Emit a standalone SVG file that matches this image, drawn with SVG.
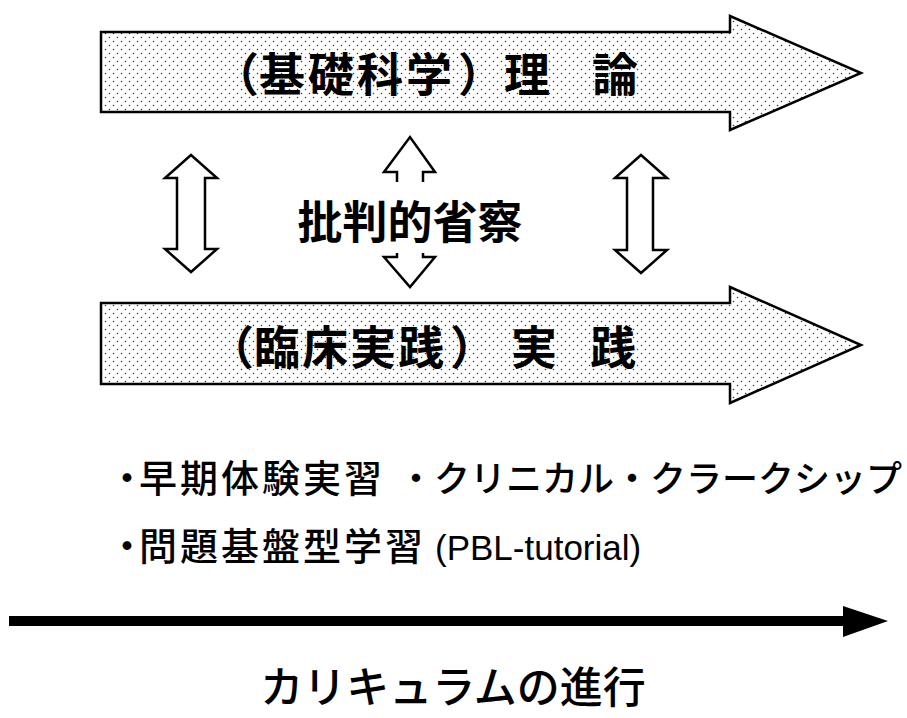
<svg xmlns="http://www.w3.org/2000/svg" width="907" height="718" viewBox="0 0 907 718">
<defs>
<pattern id="dots" width="8" height="8" patternUnits="userSpaceOnUse">
<rect width="8" height="8" fill="#ffffff"/>
<circle cx="1.5" cy="1.5" r="0.75" fill="#333"/>
<circle cx="5.5" cy="5.5" r="0.75" fill="#333"/>
</pattern>
<style>
.big{fill:url(#dots);stroke:#000;stroke-width:2.5;stroke-linejoin:miter}
.dbl{fill:#fff;stroke:#000;stroke-width:2.5;stroke-linejoin:miter}
.t{font-family:"Noto Sans CJK JP","Noto Sans CJK SC",sans-serif;fill:#000}
.b{font-weight:bold;font-size:46px}
.m{font-size:38px;font-weight:500}
.lat{font-family:"Liberation Sans",Arial,sans-serif;font-size:35px}
</style>
</defs>
<g id="theory">
<path class="big" d="M101,32 H730 V16 L861,73 L730,130 V112 H101 Z"/>
<text class="t b" x="213 259 308 357 406 458" y="91">（基礎科学）</text>
<text class="t b" x="504" y="91">理</text>
<text class="t b" x="592" y="91">論</text>
</g>
<g id="practice">
<path class="big" d="M101,303 H730 V287 L861,345 L730,403 V384 H101 Z"/>
<text class="t b" x="208 254 302 350 398 450" y="364">（臨床実践）</text>
<text class="t b" x="511" y="364">実</text>
<text class="t b" x="590" y="364">践</text>
</g>
<g id="reflection">
<text class="t b" x="410" y="239" text-anchor="middle" style="font-size:45px">批判的省察</text>
</g>
<g id="connectors">
<path class="dbl" d="M191,155 L217,178 H205 V249 H217 L191,272 L165,249 H177 V178 H165 Z"/>
<path class="dbl" d="M641,155 L667,178 H653 V250 H667 L641,273 L615,250 H627 V178 H615 Z"/>
<path class="dbl" d="M397,182 V172 H384 L410,137 L435,172 H423 V182"/>
<path class="dbl" d="M397,253 V257 H384 L410,287 L435,257 H423 V253"/>
<path d="M9,621 H848" stroke="#000" stroke-width="10" fill="none"/>
<path d="M843,606 L888,621 L843,637 Z" fill="#000"/>
</g>
<g id="items">
<text class="t m" x="108 139 180 221 262 303 344" y="492">・早期体験実習</text>
<text class="t" x="398" y="492" style="font-size:36px;font-weight:500">・クリニカル・クラークシップ</text>
<text class="t m" x="108 139 180 221 262 303 344 385" y="560">・問題基盤型学習<tspan class="lat" x="435">(PBL-tutorial)</tspan></text>
</g>
<g id="curriculum">
<text class="t" x="453" y="703" font-size="43" font-weight="500" text-anchor="middle">カリキュラムの進行</text>
</g>
</svg>
